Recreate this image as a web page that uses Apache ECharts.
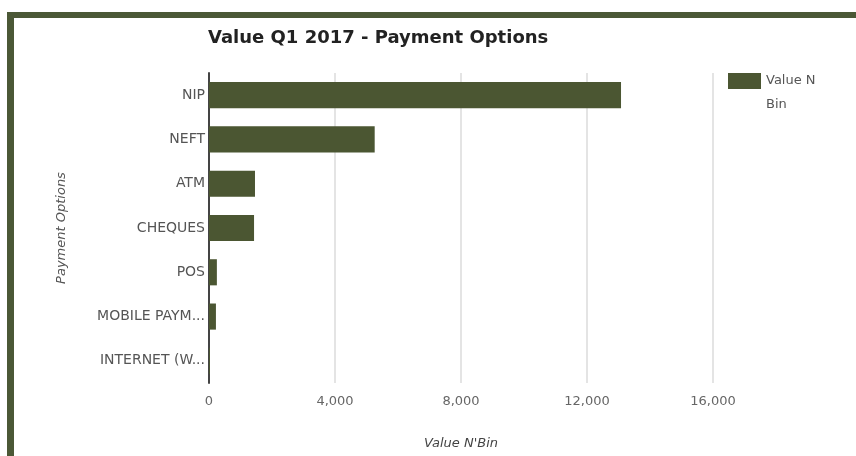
<!DOCTYPE html>
<html>
<head>
<meta charset="utf-8">
<script src="https://cdn.jsdelivr.net/npm/echarts@6/dist/echarts.min.js"></script>
<style>
  html, body { margin: 0; padding: 0; background: #ffffff; }
  #frame { position: absolute; left: 7px; top: 12px; right: 0; bottom: 0;
           border-left: 7px solid #4b5836; border-top: 6px solid #4b5836; background: #ffffff; }
  #chart { position: absolute; left: 0; top: 0; width: 856px; height: 456px; }
</style>
</head>
<body>
<div id="frame"></div>
<div id="chart"></div>
<script>
const chartTitle = "Value Q1 2017 - Payment Options";
const categories = ["NIP", "NEFT", "ATM", "CHEQUES", "POS", "MOBILE PAYM...", "INTERNET (W..."];
const values = [13080, 5260, 1460, 1430, 250, 220, 30];
const seriesName = "Value N'Bin";
const legendLabel = "\nValue N\nBin";
const xAxisTitle = "Value N'Bin";
const yAxisTitle = "Payment Options";

const chart = echarts.init(document.getElementById('chart'), null, { renderer: 'canvas' });
const font = "'DejaVu Sans', sans-serif";
chart.setOption({
  backgroundColor: 'transparent',
  animation: false,
  title: {
    text: chartTitle, left: 208, top: 29, padding: 0,
    textStyle: { fontFamily: font, fontSize: 18, fontWeight: 'bold', color: '#222222' }
  },
  legend: {
    left: 728, top: 45, padding: 0, itemWidth: 33, itemHeight: 16,
    icon: 'rect',
    formatter: function () { return legendLabel; },
    textStyle: { fontFamily: font, fontSize: 13, color: '#555555', lineHeight: 24 }
  },
  grid: { left: 209, right: 143, top: 73, bottom: 73, containLabel: false },
  xAxis: {
    type: 'value', min: 0, max: 16000, interval: 4000,
    name: xAxisTitle, nameLocation: 'middle', nameGap: 54,
    nameTextStyle: { fontFamily: font, fontSize: 13, fontStyle: 'italic', color: '#444444' },
    axisLine: { show: false }, axisTick: { show: false },
    axisLabel: { fontFamily: font, fontSize: 13, color: '#666666', margin: 12,
      formatter: function (v) { return v.toLocaleString('en-US'); } },
    splitLine: { show: true, lineStyle: { color: '#e4e4e4', width: 2 } }
  },
  yAxis: {
    type: 'category', data: categories, inverse: true,
    name: yAxisTitle, nameLocation: 'middle', nameGap: 141,
    nameTextStyle: { fontFamily: font, fontSize: 13, fontStyle: 'italic', color: '#555555' },
    axisLine: { show: true, lineStyle: { color: '#444444', width: 2 } },
    axisTick: { show: false },
    axisLabel: { fontFamily: font, fontSize: 14, color: '#555555', margin: 4 },
    splitLine: { show: false }
  },
  series: [{
    type: 'bar', name: seriesName, data: values,
    barCategoryGap: '41%',
    itemStyle: { color: '#4b5632' }
  }]
});
</script>
</body>
</html>
